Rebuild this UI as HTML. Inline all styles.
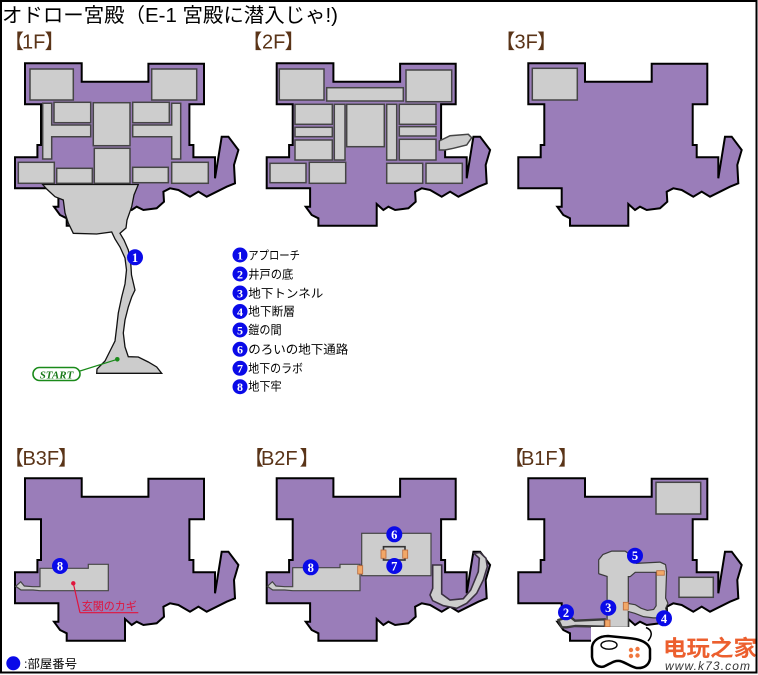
<!DOCTYPE html>
<html><head><meta charset="utf-8"><style>
html,body{margin:0;padding:0;background:#fff;}
svg{display:block;}
</style></head><body>
<svg width="758" height="675" viewBox="0 0 758 675" xmlns="http://www.w3.org/2000/svg">
<defs>
<path id="b" d="M0,0 H56.7 V18.4 H123.4 V0.5 H179 V41 H164.4 V81.7 H168.4 V94 H190 V115 L196.7,73.4 H203.4 L213.4,86.7 L209,101.7 L210,120 L201.7,123.4 L181.7,133.4 L173.4,128.4 L165,133.4 L153.4,126.7 L145,125 L138.4,128.4 L139,138.4 L131.7,145 L118.4,146.7 L111.7,143.4 L106.7,146.7 L100,140.7 V162.4 H41.7 V155 L35,151.7 L29,143.4 H33.4 V125 H-10 V94 H12.4 V81.7 H16 V41 H0 Z"/>
</defs>
<rect width="758" height="675" fill="#fff"/>

<!-- Title -->
<text x="2" y="22" font-family="Liberation Sans, Noto Sans CJK JP, sans-serif" font-size="20" fill="#000" textLength="336" lengthAdjust="spacingAndGlyphs">オドロー宮殿（E-1 宮殿に潜入じゃ!)</text>

<!-- floor labels -->
<g font-family="Liberation Sans, Noto Sans CJK JP, sans-serif" font-size="20" fill="#5a3418">
<text x="4 22 33.1 44.5" y="48.5">【1F】</text>
<text x="242.3 262 273.1 284.5" y="48.5">【2F】</text>
<text x="495.3 514.5 525.6 537" y="48.5">【3F】</text>
<text x="4 22.5 35.8 46.9 58" y="465">【B3F】</text>
<text x="244 261 274.3 285.4 299.5" y="465">【B2F】</text>
<text x="504 521 534.3 545.4 558" y="465">【B1F】</text>
</g>

<!-- ===== 1F ===== -->
<use href="#b" x="25" y="63.3" fill="#9a7db9" stroke="#000" stroke-width="2"/>
<g fill="#cdcdcd" stroke="#454545" stroke-width="1.5">
<rect x="30" y="69" width="43.3" height="31"/>
<rect x="151.7" y="69" width="45" height="31"/>
<path d="M42.7,103.3 H51.7 V125 H90.7 V136.7 H51.7 V159 H42.7 Z"/>
<path d="M180.7,103.3 H171.7 V125 H132.7 V136.7 H171.7 V159 H180.7 Z"/>
<rect x="54" y="102.3" width="36.7" height="20.4"/>
<rect x="132.7" y="102.3" width="36.6" height="20.4"/>
<rect x="93.3" y="102.7" width="36.7" height="43"/>
<rect x="94.3" y="148.3" width="35.7" height="35"/>
<rect x="18.3" y="162.3" width="36" height="21"/>
<rect x="56.7" y="168.3" width="35.6" height="15"/>
<rect x="132.7" y="167.3" width="35.6" height="15.4"/>
<rect x="171.7" y="162.3" width="36.6" height="21"/>
</g>
<path d="M42.7,184.5 L138.3,184.5 L134,195 L131.7,206.7 L127,220 L126,228 L120,233.3 L124,240 L128.3,250 L130.7,262 L131.5,275 L135,290 L131.7,297 L128.3,307 L125,320 L123.3,333 L125,347 L128.3,356.7 L138.3,357 L148.3,362 L156.7,367 L161.7,373.3 L96.7,373.3 L97,369 L105,361 L110,351 L115,341 L116.7,327 L118.3,313 L121.7,297 L125,284 L126.5,270 L125,258 L120,247 L115,239 L111.7,232 L96.7,234 L73.3,233.3 L68.3,223 L65,213 L63.3,200 L55,196.7 L46.7,189 Z" fill="#cccccc" stroke="#111" stroke-width="1.3"/>
<!-- START -->
<line x1="80" y1="371" x2="117.3" y2="359.3" stroke="#1a8a1a" stroke-width="1.2"/>
<circle cx="117.3" cy="359.3" r="2.3" fill="#1a8a1a"/>
<rect x="33" y="367.5" width="47" height="13" rx="6.5" fill="#fff" stroke="#1a8a1a" stroke-width="1.6"/>
<text x="56.5" y="378.3" text-anchor="middle" font-family="Liberation Serif, serif" font-style="italic" font-weight="bold" font-size="11" fill="#1a7a1a">START</text>

<!-- ===== 2F ===== -->
<use href="#b" x="276.7" y="63.3" fill="#9a7db9" stroke="#000" stroke-width="2"/>
<g fill="#cdcdcd" stroke="#454545" stroke-width="1.5">
<rect x="279.3" y="69" width="44.7" height="31"/>
<rect x="406" y="70" width="45.7" height="31.7"/>
<rect x="326.7" y="87.7" width="76.6" height="13.3"/>
<rect x="295" y="104.3" width="37.3" height="20"/>
<rect x="295" y="127.3" width="37.3" height="9.4"/>
<rect x="295" y="140" width="37.3" height="20"/>
<rect x="334.3" y="104.3" width="10.7" height="55.7"/>
<rect x="346.7" y="104.3" width="37.6" height="42.4"/>
<rect x="386.7" y="104.3" width="10" height="55.7"/>
<rect x="399.3" y="104.3" width="36.7" height="20"/>
<rect x="399.3" y="126.7" width="36.7" height="9.3"/>
<rect x="399.3" y="139.3" width="36.7" height="20.7"/>
<rect x="270" y="163.3" width="36" height="19.4"/>
<rect x="309.3" y="162.3" width="36.4" height="21"/>
<rect x="386.7" y="163.3" width="36" height="20"/>
<rect x="426" y="163.3" width="36.3" height="20"/>
<path d="M439.3,141 L450,135.7 L468.3,134.3 L471.7,137.7 L466.7,145 L453.3,148.3 L445,150 L439.3,150 Z"/>
</g>

<!-- ===== 3F ===== -->
<use href="#b" x="528.3" y="63.3" fill="#9a7db9" stroke="#000" stroke-width="2"/>
<rect x="532.3" y="68.3" width="45" height="31.7" fill="#cdcdcd" stroke="#454545" stroke-width="1.5"/>

<!-- ===== Legend ===== -->
<g font-family="Liberation Sans, Noto Sans CJK JP, sans-serif" font-size="12" fill="#000">
<text x="248.3" y="259.3" textLength="51.7" lengthAdjust="spacingAndGlyphs">アプローチ</text>
<text x="248.3" y="278.3" textLength="45" lengthAdjust="spacingAndGlyphs">井戸の底</text>
<text x="248.3" y="297.3" textLength="75" lengthAdjust="spacingAndGlyphs">地下トンネル</text>
<text x="248.3" y="315.7" textLength="46.7" lengthAdjust="spacingAndGlyphs">地下断層</text>
<text x="248.3" y="334" textLength="33.4" lengthAdjust="spacingAndGlyphs">鎧の間</text>
<text x="248.3" y="353.3" textLength="100" lengthAdjust="spacingAndGlyphs">のろいの地下通路</text>
<text x="248.3" y="372.3" textLength="54.7" lengthAdjust="spacingAndGlyphs">地下のラボ</text>
<text x="248.3" y="390.7" textLength="33.4" lengthAdjust="spacingAndGlyphs">地下牢</text>
</g>
<g fill="#0a0ae8">
<circle cx="240" cy="255" r="7.5"/><circle cx="240" cy="274" r="7.5"/><circle cx="240" cy="293" r="7.5"/><circle cx="240" cy="311.5" r="7.5"/>
<circle cx="240" cy="330" r="7.5"/><circle cx="240" cy="349.3" r="7.5"/><circle cx="240" cy="368.3" r="7.5"/><circle cx="240" cy="386.7" r="7.5"/>
</g>
<g font-family="Liberation Serif, serif" font-weight="bold" font-size="12" fill="#fff" text-anchor="middle">
<text x="240" y="259.3">1</text><text x="240" y="278.3">2</text><text x="240" y="297.3">3</text><text x="240" y="315.8">4</text>
<text x="240" y="334.3">5</text><text x="240" y="353.6">6</text><text x="240" y="372.6">7</text><text x="240" y="391">8</text>
</g>

<!-- ===== B3F ===== -->
<use href="#b" x="25" y="478.3" fill="#9a7db9" stroke="#000" stroke-width="2"/>
<path d="M40,568.3 H88.3 V564.3 H108.3 V590.7 H40 L33,590 L21,590 L15.7,586.3 L20.7,581.7 L24.3,586 L33,586.7 L40,586.7 Z" fill="#cdcdcd" stroke="#454545" stroke-width="1.2"/>
<line x1="73.3" y1="583.3" x2="80" y2="612.7" stroke="#e0143c" stroke-width="1.2"/>
<line x1="80" y1="612.7" x2="138.3" y2="612.7" stroke="#e0143c" stroke-width="1.2"/>
<circle cx="73.3" cy="583.3" r="2.2" fill="#e0143c"/>
<text x="81.7" y="610" font-family="Liberation Sans, Noto Sans CJK JP, sans-serif" font-size="11.5" fill="#e0143c" textLength="55" lengthAdjust="spacingAndGlyphs">玄関のカギ</text>

<!-- ===== B2F ===== -->
<use href="#b" x="276.7" y="478.3" fill="#9a7db9" stroke="#000" stroke-width="2"/>
<g fill="#cdcdcd" stroke="#454545" stroke-width="1.2">
<path d="M292.7,567.7 H340 V564.3 H360 V590.7 H292.7 L284.7,590 L272.7,590 L267.4,586.3 L272.4,581.7 L276,586 L284.7,586.7 L292.7,586.7 Z"/>
<rect x="361.7" y="533.3" width="69.3" height="42.4"/>
<path d="M432.7,565 H441.7 V594 L450,600 L463.3,598.7 L470.7,590 L478.3,571.7 L479.3,558.3 L474,553.3 L480,552.5 L486,558.3 L487.3,566.7 L483.3,580 L476.7,593.3 L466.7,603.3 L456.7,608.3 L443.3,605.7 L432.7,600.7 L430,595 L432.7,588.3 Z" stroke="#3a3040" stroke-width="1.6"/>
</g>
<rect x="383.5" y="546.7" width="21.5" height="13.3" fill="#cdcdcd" stroke="#333" stroke-width="1.6"/>
<g fill="#f2a868" stroke="#b8683a" stroke-width="0.8">
<rect x="381" y="550" width="5" height="8.3"/>
<rect x="402.7" y="550" width="5" height="8.3"/>
<rect x="357.7" y="565.7" width="5" height="8.3"/>
</g>

<!-- ===== B1F ===== -->
<use href="#b" x="528.3" y="478.3" fill="#9a7db9" stroke="#000" stroke-width="2"/>
<g fill="#cdcdcd" stroke="#454545" stroke-width="1.5">
<rect x="656" y="482.3" width="44.7" height="31.7"/>
<rect x="679" y="577.3" width="34.3" height="20"/>
</g>
<g stroke="#3a3a3a" stroke-width="2.4" fill="#cdcdcd" stroke-linejoin="round">
<path d="M599.3,560 L603.3,555 L611.7,551.7 L625,551.7 L631.7,556.7 L636,564 L660,562.7 L665,565 L666,571.7 L656.7,571.7 L635,571.7 L630,576 L627.7,576 L627.7,626.7 L607.7,626.7 L607.7,576 L599.3,573.3 Z"/>
<path d="M656.7,571.7 L666,571.7 L665,598.3 L667.3,603.3 L665,608.3 L666.7,614 L661.7,617.3 L653.3,617.3 L643.3,616 L635,612.7 L627.7,610.7 L627.7,604 L635,605.3 L640.7,608.7 L647.3,611 L654,610 L656.7,606 Z"/>
<path d="M558.3,620 L570,616.7 L575,620.7 L605,619.3 L605,626.7 L575,626 L566.7,627.3 L561.7,627.3 Z"/>
</g>
<g fill="#cdcdcd">
<path d="M599.3,560 L603.3,555 L611.7,551.7 L625,551.7 L631.7,556.7 L636,564 L660,562.7 L665,565 L666,571.7 L656.7,571.7 L635,571.7 L630,576 L627.7,576 L627.7,626.7 L607.7,626.7 L607.7,576 L599.3,573.3 Z"/>
<path d="M656.7,571.7 L666,571.7 L665,598.3 L667.3,603.3 L665,608.3 L666.7,614 L661.7,617.3 L653.3,617.3 L643.3,616 L635,612.7 L627.7,610.7 L627.7,604 L635,605.3 L640.7,608.7 L647.3,611 L654,610 L656.7,606 Z"/>
</g>
<g fill="#f2a868" stroke="#b8683a" stroke-width="0.8">
<rect x="656.7" y="570.7" width="7.6" height="4.5"/>
<rect x="623.3" y="602.3" width="5" height="7.7"/>
<rect x="605" y="620" width="5" height="6.7"/>
</g>

<!-- map circles -->
<g fill="#0a0ae8">
<circle cx="135" cy="257.3" r="8"/>
<circle cx="60" cy="566" r="8"/>
<circle cx="310.7" cy="567.3" r="8"/>
<circle cx="394.3" cy="534.3" r="8"/>
<circle cx="394.3" cy="566" r="8"/>
<circle cx="635" cy="555.7" r="8"/>
<circle cx="608.3" cy="607.7" r="8"/>
<circle cx="566" cy="612.3" r="8"/>
<circle cx="664" cy="618.3" r="8"/>
</g>
<g font-family="Liberation Serif, serif" font-weight="bold" font-size="12.5" fill="#fff" text-anchor="middle">
<text x="135" y="261.8">1</text>
<text x="60" y="570.5">8</text>
<text x="310.7" y="571.8">8</text>
<text x="394.3" y="538.8">6</text>
<text x="394.3" y="570.5">7</text>
<text x="635" y="560.2">5</text>
<text x="608.3" y="612.2">3</text>
<text x="566" y="616.8">2</text>
<text x="664" y="622.8">4</text>
</g>

<!-- legend bottom -->
<circle cx="13.3" cy="663.3" r="7" fill="#0a0ae8"/>
<text x="24" y="668" font-family="Liberation Sans, Noto Sans CJK JP, sans-serif" font-size="12" fill="#000" textLength="53" lengthAdjust="spacingAndGlyphs">:部屋番号</text>

<!-- watermark -->
<rect x="591" y="627" width="166" height="47" fill="#fff"/>
<path d="M648,641 C653,635 652,630 646,627.5" fill="none" stroke="#000" stroke-width="1.5"/>
<path d="M592,647 C593,640 600,636 608,636 L628,638 C640,639 648,642 650,649 L650,659 C649,665 644,668.5 637,668 C631,667 627,663 620,661 C614,660 610,664 604,666.5 C598,668 593,664 592,657 Z" fill="#fff" stroke="#000" stroke-width="2.5"/>
<ellipse cx="609" cy="645" rx="8" ry="4.2" fill="#fff" stroke="#000" stroke-width="1.4"/>
<g fill="#f07840">
<circle cx="631" cy="650" r="2.2"/><circle cx="637.5" cy="649" r="2.2"/>
<circle cx="631" cy="656" r="2.2"/><circle cx="637.5" cy="655.5" r="2.2"/>
</g>
<text x="663" y="656" font-family="Noto Sans CJK SC, sans-serif" font-weight="bold" font-size="22" fill="#ec5f2e" textLength="94" lengthAdjust="spacingAndGlyphs">电玩之家</text>
<text x="665" y="670" font-family="Liberation Sans, sans-serif" font-style="italic" font-size="12" fill="#333" textLength="85" lengthAdjust="spacing">www.k73.com</text>

<!-- outer border -->
<rect x="1" y="1" width="755.5" height="671.5" fill="none" stroke="#000" stroke-width="2"/>
</svg>
</body></html>
